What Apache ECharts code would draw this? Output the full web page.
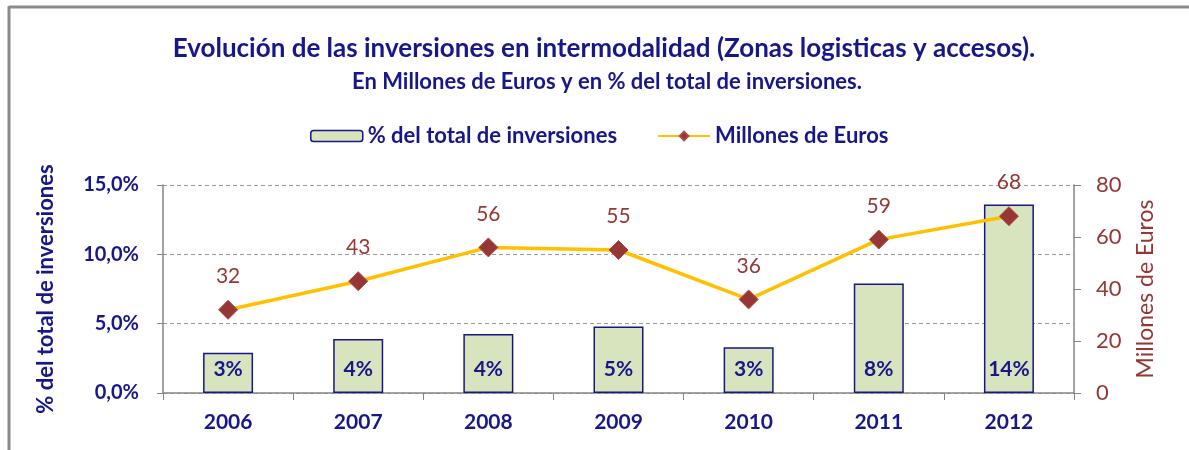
<!DOCTYPE html>
<html>
<head>
<meta charset="utf-8">
<script src="https://cdn.jsdelivr.net/npm/echarts@6/dist/echarts.min.js"></script>
<style>
html, body { margin: 0; padding: 0; background: #fff; }
#main { width: 1189px; height: 450px; }
</style>
</head>
<body>
<div id="main"></div>
<script>
var years = ['2006', '2007', '2008', '2009', '2010', '2011', '2012'];
var pctTotal = [2.9, 3.9, 4.25, 4.8, 3.3, 7.9, 13.6];
var millones = [32, 43, 56, 55, 36, 59, 68];

var navy = '#17178a';
var wine = '#953735';
var font = 'Lato';

var chart = echarts.init(document.getElementById('main'));

var option = {
    animation: false,
    textStyle: { fontFamily: font },
    graphic: [
        { type: 'line', shape: { x1: 9, y1: 7, x2: 1189, y2: 7 }, style: { stroke: '#8c8c8c', lineWidth: 3 } },
        { type: 'line', shape: { x1: 9, y1: 6, x2: 9, y2: 450 }, style: { stroke: '#8c8c8c', lineWidth: 3 } }
    ],
    title: [{
        text: 'Evolución de las inversiones en intermodalidad (Zonas logisticas y accesos).',
        left: 599, top: 31, textAlign: 'center',
        textStyle: { color: navy, fontSize: 26, fontWeight: 'bold', fontFamily: font }
    }, {
        text: 'En Millones de Euros y en % del total de inversiones.',
        left: 602, top: 66, textAlign: 'center',
        textStyle: { color: navy, fontSize: 22, fontWeight: 'bold', fontFamily: font }
    }],
    legend: {
        top: 120,
        left: 305,
        itemGap: 40,
        itemWidth: 52,
        itemHeight: 11,
        textStyle: { color: navy, fontSize: 22, fontWeight: 'bold', fontFamily: font },
        data: [
            { name: '% del total de inversiones', itemStyle: { color: '#d7e4bd', borderColor: navy, borderWidth: 1.5 } },
            { name: 'Millones de Euros' }
        ]
    },
    grid: { left: 163, right: 115, top: 185, bottom: 57 },
    xAxis: [{
        type: 'category',
        data: years,
        boundaryGap: true,
        axisLine: { lineStyle: { color: '#868686', width: 1.5 } },
        axisTick: { show: true, length: 7, lineStyle: { color: '#868686' } },
        axisLabel: { color: navy, fontSize: 21, fontWeight: 'bold', margin: 19, fontFamily: font }
    }],
    yAxis: [{
        type: 'value',
        min: 0, max: 15, interval: 5,
        name: '% del total de inversiones',
        nameLocation: 'middle',
        nameRotate: 90,
        nameGap: 106,
        nameTextStyle: { color: navy, fontSize: 22, fontWeight: 'bold', fontFamily: font },
        axisLine: { show: true, lineStyle: { color: '#868686', width: 1.5 } },
        axisTick: { show: true, length: 6, lineStyle: { color: '#868686' } },
        axisLabel: {
            color: navy, fontSize: 20, fontWeight: 'bold', margin: 24, fontFamily: font,
            formatter: function (v) { return v.toFixed(1).replace('.', ',') + '%'; }
        },
        splitLine: { show: true, lineStyle: { color: '#9a9a9a', type: [4, 3], width: 1 } }
    }, {
        type: 'value',
        min: 0, max: 80, interval: 20,
        position: 'right',
        name: 'Millones de Euros',
        nameLocation: 'middle',
        nameRotate: 90,
        nameGap: 60,
        nameTextStyle: { color: wine, fontSize: 23, fontFamily: font },
        axisLine: { show: true, lineStyle: { color: '#868686', width: 1.5 } },
        axisTick: { show: true, length: 7, lineStyle: { color: '#868686' } },
        axisLabel: { color: wine, fontSize: 22, margin: 22, fontFamily: font },
        splitLine: { show: false }
    }],
    series: [{
        name: '% del total de inversiones',
        type: 'bar',
        yAxisIndex: 0,
        barWidth: 50,
        data: pctTotal,
        itemStyle: { color: '#d7e4bd', borderColor: navy, borderWidth: 1.5 },
        label: {
            show: true,
            position: 'insideBottom',
            distance: 13,
            color: navy,
            fontSize: 21,
            fontWeight: 'bold',
            fontFamily: font,
            formatter: function (p) { return Math.round(p.value) + '%'; }
        },
        z: 2
    }, {
        name: 'Millones de Euros',
        type: 'line',
        yAxisIndex: 1,
        data: millones,
        symbol: 'diamond',
        symbolSize: 19,
        lineStyle: { color: '#ffc000', width: 3.5 },
        itemStyle: { color: wine, borderColor: '#b04a47', borderWidth: 1 },
        label: {
            show: true,
            position: 'top',
            distance: 13,
            color: wine,
            fontSize: 21,
            fontFamily: font
        },
        z: 3
    }]
};

chart.setOption(option);
</script>
</body>
</html>
